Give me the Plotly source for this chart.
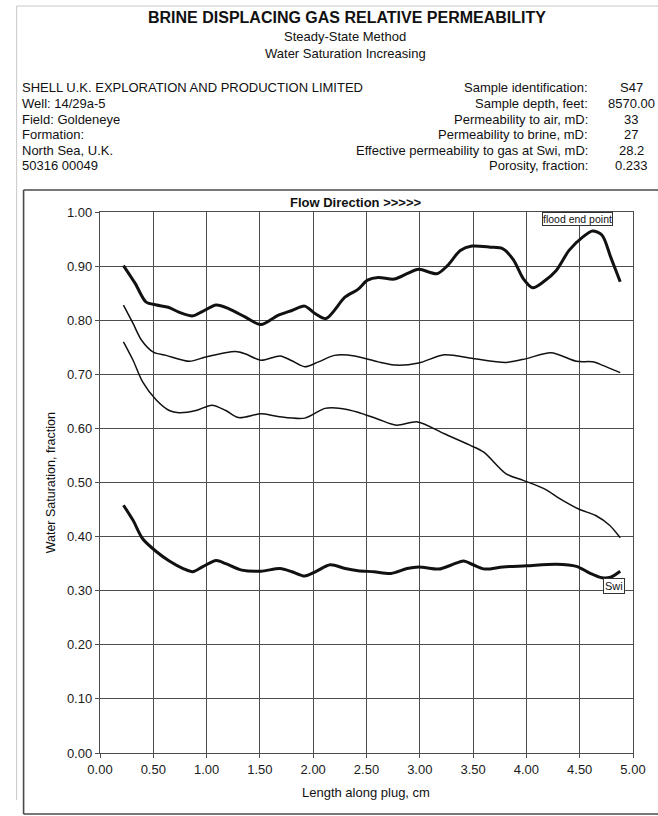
import plotly.graph_objects as go

# Position along the plug (cm) and water saturation (fraction) for each profile
flood_x = [0.22, 0.33, 0.43, 0.53, 0.64, 0.74, 0.87, 0.96, 1.09, 1.21, 1.36, 1.51, 1.67, 1.80,
           1.92, 2.02, 2.12, 2.30, 2.42, 2.51, 2.61, 2.76, 2.88, 2.99, 3.16, 3.26, 3.38, 3.49,
           3.66, 3.78, 3.88, 3.97, 4.06, 4.16, 4.28, 4.40, 4.53, 4.62, 4.71, 4.79, 4.88]
flood_y = [0.901, 0.868, 0.834, 0.828, 0.824, 0.815, 0.808, 0.816, 0.828, 0.821, 0.806, 0.792,
           0.809, 0.818, 0.826, 0.812, 0.803, 0.843, 0.857, 0.874, 0.879, 0.876, 0.886, 0.894,
           0.886, 0.901, 0.929, 0.937, 0.935, 0.932, 0.911, 0.877, 0.860, 0.871, 0.892, 0.929,
           0.954, 0.965, 0.957, 0.917, 0.871]

upper_x = [0.22, 0.31, 0.39, 0.50, 0.62, 0.84, 0.99, 1.27, 1.36, 1.51, 1.69, 1.80, 1.92, 2.05,
           2.20, 2.39, 2.61, 2.78, 2.99, 3.23, 3.50, 3.81, 4.00, 4.23, 4.47, 4.62, 4.71, 4.88]
upper_y = [0.828, 0.794, 0.763, 0.741, 0.735, 0.724, 0.732, 0.742, 0.738, 0.726, 0.734, 0.725,
           0.714, 0.723, 0.735, 0.734, 0.723, 0.717, 0.721, 0.736, 0.729, 0.722, 0.729, 0.740,
           0.724, 0.723, 0.717, 0.703]

lower_x = [0.22, 0.31, 0.40, 0.53, 0.65, 0.74, 0.90, 1.05, 1.18, 1.30, 1.51, 1.67, 1.92, 2.11,
           2.26, 2.42, 2.61, 2.78, 2.98, 3.23, 3.47, 3.60, 3.81, 3.97, 4.16, 4.34, 4.50, 4.65,
           4.78, 4.88]
lower_y = [0.760, 0.726, 0.686, 0.652, 0.633, 0.629, 0.633, 0.643, 0.633, 0.620, 0.627, 0.622,
           0.619, 0.637, 0.637, 0.630, 0.617, 0.606, 0.612, 0.590, 0.569, 0.556, 0.516, 0.504,
           0.489, 0.467, 0.450, 0.439, 0.421, 0.398]

swi_x = [0.22, 0.31, 0.40, 0.53, 0.65, 0.78, 0.87, 0.96, 1.09, 1.18, 1.33, 1.51, 1.69, 1.80,
         1.92, 2.02, 2.16, 2.30, 2.42, 2.57, 2.73, 2.88, 2.99, 3.18, 3.29, 3.41, 3.50, 3.61,
         3.78, 4.00, 4.28, 4.47, 4.59, 4.71, 4.79, 4.88]
swi_y = [0.458, 0.430, 0.396, 0.372, 0.355, 0.341, 0.335, 0.344, 0.356, 0.350, 0.338, 0.336,
         0.341, 0.335, 0.327, 0.335, 0.348, 0.341, 0.337, 0.335, 0.332, 0.341, 0.344, 0.340,
         0.347, 0.355, 0.348, 0.340, 0.344, 0.346, 0.349, 0.345, 0.333, 0.324, 0.325, 0.336]

x_ticks = [0.0, 0.5, 1.0, 1.5, 2.0, 2.5, 3.0, 3.5, 4.0, 4.5, 5.0]
y_ticks = [0.0, 0.1, 0.2, 0.3, 0.4, 0.5, 0.6, 0.7, 0.8, 0.9, 1.0]

sample_labels = ["Sample identification:", "Sample depth, feet:", "Permeability to air, mD:",
                 "Permeability to brine, mD:", "Effective permeability to gas at Swi, mD:",
                 "Porosity, fraction:"]
sample_values = ["S47", "8570.00", "33", "27", "28.2", "0.233"]
well_lines = ["SHELL U.K. EXPLORATION AND PRODUCTION LIMITED", "Well: 14/29a-5",
              "Field: Goldeneye", "Formation:", "North Sea, U.K.", "50316 00049"]

FONT = "Liberation Sans, Arial, sans-serif"
INK = "#111111"
GRID = "#4d4d4d"
W, H = 658, 816
L, R, T, B = 100, 21, 212, 63


def pxx(x):
    return (x - L) / (W - L - R)


def pxy(y):
    return (H - B - y) / (H - T - B)


fig = go.Figure()
curves = [(flood_x, flood_y, 3.0), (upper_x, upper_y, 1.5),
          (lower_x, lower_y, 1.5), (swi_x, swi_y, 3.0)]
for cx, cy, w in curves:
    fig.add_trace(go.Scatter(x=cx, y=cy, mode="lines",
                             line=dict(color=INK, width=w, shape="spline", smoothing=0.8),
                             showlegend=False, hoverinfo="skip"))

grid = dict(showgrid=True, gridcolor=GRID, gridwidth=1.4, showline=True,
            linecolor=GRID, linewidth=1.4, mirror=True, zeroline=False,
            ticks="outside", ticklen=4, tickcolor=GRID,
            tickfont=dict(family=FONT, size=13, color="#1a1a1a"))

fig.update_xaxes(range=[0, 5], tickvals=x_ticks, tickformat=".2f", **grid)
fig.update_yaxes(range=[0, 1], tickvals=y_ticks, tickformat=".2f", **grid)


def note(text, x, y, size, anchor="center", **kw):
    return dict(text=text, x=pxx(x), y=pxy(y), xref="paper", yref="paper", showarrow=False,
                xanchor=anchor, yanchor="middle",
                font=dict(size=size, family=FONT, color=INK), **kw)


ann = []
# Report heading
ann.append(note("<b>BRINE DISPLACING GAS RELATIVE PERMEABILITY</b>", 349, 18, 16))
ann.append(note("Steady-State Method", 347, 37, 13))
ann.append(note("Water Saturation Increasing", 347, 53, 13))
for i, s in enumerate(well_lines):
    ann.append(note(s, 19, 88 + 15.5 * i, 13, "left"))
for i, (s, v) in enumerate(zip(sample_labels, sample_values)):
    ann.append(note(s, 594, 88 + 15.5 * i, 13, "right"))
    ann.append(note(v, 635, 88 + 15.5 * i, 13))
# Axis titles
ann.append(note("Water Saturation, fraction", 51, 483, 12.5, textangle=-90))
ann.append(note("Length along plug, cm", 368, 792, 13))
ann.append(note("<b>Flow Direction &gt;&gt;&gt;&gt;&gt;</b>", 358, 202, 13))

# Curve labels in boxes
ann.append(dict(text="flood end point", x=4.475, y=0.987, xref="x", yref="y", showarrow=False,
                bgcolor="white", bordercolor="#333333", borderwidth=1, borderpad=0,
                font=dict(size=10.5, family=FONT, color=INK)))
ann.append(dict(text="Swi", x=4.82, y=0.308, xref="x", yref="y", showarrow=False,
                bgcolor="white", bordercolor="#333333", borderwidth=1, borderpad=1,
                font=dict(size=11, family=FONT, color=INK)))

shapes = []
# Chart frame (continues past the right edge of the page)
for x0, y0, x1, y1 in [(23, 190, 23, 814), (23, 190, 700, 190), (23, 814, 700, 814)]:
    shapes.append(dict(type="line", xref="paper", yref="paper", x0=pxx(x0), y0=pxy(y0),
                       x1=pxx(x1), y1=pxy(y1), line=dict(color="#4a4a4a", width=1.6)))
# Page border
for x0, y0, x1, y1 in [(16, 6, 16, 800), (16, 6, 700, 6)]:
    shapes.append(dict(type="line", xref="paper", yref="paper", x0=pxx(x0), y0=pxy(y0),
                       x1=pxx(x1), y1=pxy(y1), line=dict(color="#c8c8c8", width=1)))

fig.update_layout(width=W, height=H, autosize=False,
                  margin=dict(l=L, r=R, t=T, b=B),
                  paper_bgcolor="white", plot_bgcolor="white",
                  annotations=ann, shapes=shapes)

fig.write_html("out.html", config={"displayModeBar": False})
